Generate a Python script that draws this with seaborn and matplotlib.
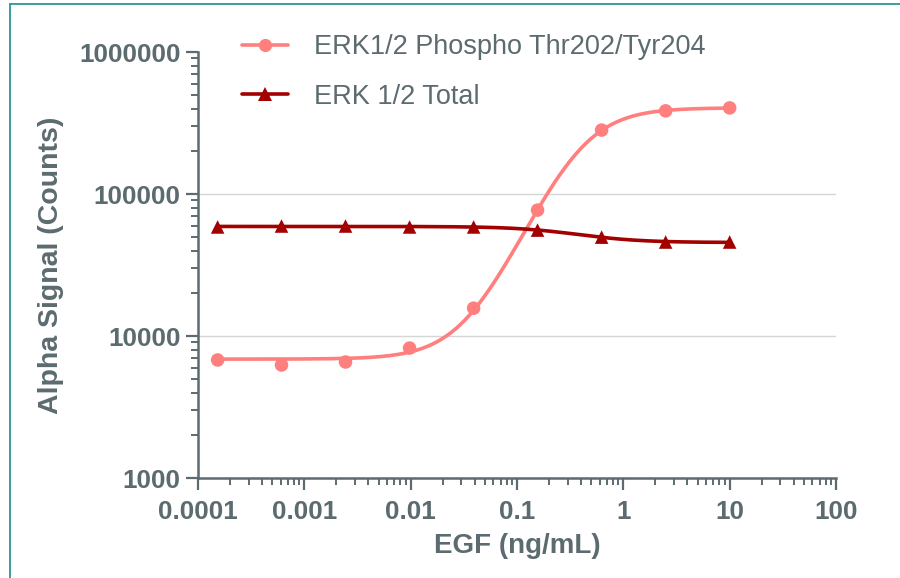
import numpy as np
import matplotlib
matplotlib.use("Agg")
import matplotlib.pyplot as plt
import seaborn as sns
from matplotlib.lines import Line2D
from matplotlib.ticker import LogLocator, FixedLocator, FixedFormatter, NullFormatter

# ---------------- data ----------------
egf = [0.000153, 0.00061, 0.00244, 0.00977, 0.0391, 0.156, 0.625, 2.5, 10]
phospho = [6780, 6250, 6560, 8220, 15700, 77000, 282000, 385000, 404000]
total = [58600, 59500, 59500, 58600, 58600, 55700, 49700, 45900, 45900]
series_names = ["ERK1/2 Phospho Thr202/Tyr204", "ERK 1/2 Total"]
x_ticks = [0.0001, 0.001, 0.01, 0.1, 1, 10, 100]
x_tick_labels = ["0.0001", "0.001", "0.01", "0.1", "1", "10", "100"]
y_ticks = [1000, 10000, 100000, 1000000]
y_tick_labels = ["1000", "10000", "100000", "1000000"]
x_label = "EGF (ng/mL)"
y_label = "Alpha Signal (Counts)"

# ---------------- style ----------------
sns.set_theme(style="white")
plt.rcParams["font.family"] = ["Liberation Sans", "DejaVu Sans"]
TXT = "#5c6b6f"
C_PH = "#ff7f7f"
C_TOT = "#a30000"


def fit4pl(x, y):
    """Four-parameter logistic fit (grid over EC50/Hill, linear LS for plateaus)."""
    lx = np.log10(np.asarray(x, float))
    y = np.asarray(y, float)
    lec = np.linspace(lx.min(), lx.max(), 500)
    hill = np.linspace(0.3, 4.0, 300)
    L, H = np.meshgrid(lec, hill, indexing="ij")
    f = 1.0 / (1.0 + 10 ** ((L[..., None] - lx) * H[..., None]))
    g = 1.0 - f
    a = (g * g).sum(-1); b = (g * f).sum(-1); c = (f * f).sum(-1)
    d1 = (g * y).sum(-1); d2 = (f * y).sum(-1)
    det = a * c - b * b
    bot = (c * d1 - b * d2) / det
    top = (a * d2 - b * d1) / det
    pred = bot[..., None] * g + top[..., None] * f
    sse = ((pred - y) ** 2).sum(-1)
    i, j = np.unravel_index(np.nanargmin(sse), sse.shape)
    p = (bot[i, j], top[i, j], lec[i], hill[j])
    xs = np.logspace(lx.min(), lx.max(), 300)
    fs = 1.0 / (1.0 + 10 ** ((p[2] - np.log10(xs)) * p[3]))
    return xs, p[0] + (p[1] - p[0]) * fs


fig = plt.figure(figsize=(9, 5.78), dpi=100)
ax = fig.add_axes([198 / 900, 1 - 478 / 578, (836 - 198) / 900, (478 - 52) / 578])
ax.set_xscale("log")
ax.set_yscale("log")

for yv in (1e4, 1e5):
    ax.axhline(yv, color="#d6d6d6", lw=1.0, zorder=0)

for vals, col, mk in ((phospho, C_PH, "o"), (total, C_TOT, "^")):
    xs, ys = fit4pl(egf, vals)
    sns.lineplot(x=xs, y=ys, color=col, lw=2.6, ax=ax, zorder=3)
    sns.scatterplot(x=egf, y=vals, color=col, marker=mk, s=95, edgecolor="none",
                    linewidth=0, ax=ax, zorder=4)

ax.set_xlim(1e-4, 100)
ax.set_ylim(1e3, 1e6)

ax.xaxis.set_major_locator(FixedLocator(x_ticks))
ax.xaxis.set_major_formatter(FixedFormatter(x_tick_labels))
ax.yaxis.set_major_locator(FixedLocator(y_ticks))
ax.yaxis.set_major_formatter(FixedFormatter(y_tick_labels))
ax.xaxis.set_minor_locator(LogLocator(base=10, subs=np.arange(2, 10), numticks=20))
ax.yaxis.set_minor_locator(LogLocator(base=10, subs=np.arange(2, 10), numticks=20))
ax.xaxis.set_minor_formatter(NullFormatter())
ax.yaxis.set_minor_formatter(NullFormatter())

for s in ("top", "right"):
    ax.spines[s].set_visible(False)
for s in ("left", "bottom"):
    ax.spines[s].set_color(TXT)
    ax.spines[s].set_linewidth(1.8)

ax.tick_params(which="major", direction="out", length=8.5, width=1.6, color=TXT,
               labelsize=18.8, labelcolor=TXT, left=True, bottom=True)
ax.tick_params(which="minor", direction="out", length=5, width=1.4, color=TXT,
               left=True, bottom=True)
ax.tick_params(axis="y", which="major", pad=4)
ax.tick_params(axis="x", which="major", pad=7)
for lab in ax.get_xticklabels() + ax.get_yticklabels():
    lab.set_fontweight("bold")

ax.set_xlabel(x_label, fontsize=20, fontweight="bold", color=TXT, labelpad=7)
ax.set_ylabel(y_label, fontsize=20.5, fontweight="bold", color=TXT, labelpad=11)

handles = [
    Line2D([], [], color=C_PH, lw=2.6, marker="o", markersize=9.5, markeredgewidth=0),
    Line2D([], [], color=C_TOT, lw=2.6, marker="^", markersize=9.5, markeredgewidth=0),
]
leg = fig.legend(handles, series_names, loc="upper left",
                 bbox_to_anchor=(242 / 900, 1 - 34 / 578), frameon=False,
                 fontsize=19.5, borderpad=0, borderaxespad=0, handlelength=1.7,
                 handletextpad=0.95, labelspacing=0.87)
for t in leg.get_texts():
    t.set_color(TXT)

# teal frame edges of the original figure panel
fig.add_artist(Line2D([10 / 900, 10 / 900], [0, 1 - 4 / 578], transform=fig.transFigure,
                      color="#2a9696", lw=1.3))
fig.add_artist(Line2D([10 / 900, 1], [1 - 4 / 578, 1 - 4 / 578], transform=fig.transFigure,
                      color="#2a9696", lw=1.3))

fig.savefig("out.png", dpi=100)
